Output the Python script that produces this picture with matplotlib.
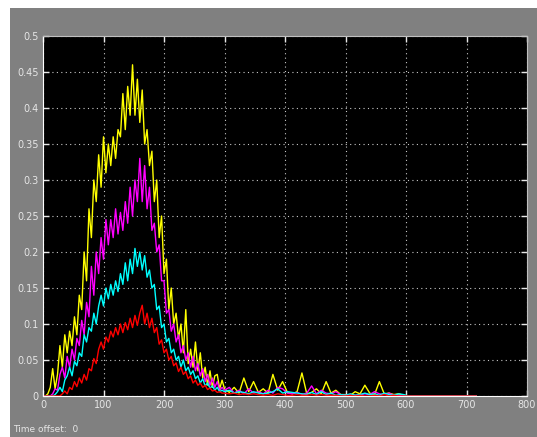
import matplotlib
matplotlib.use('Agg')
import matplotlib.pyplot as plt
import numpy as np
from matplotlib.patches import Rectangle

# time grid: dense over the pulse, coarser over the tail
t = np.concatenate([np.arange(0, 300, 4), np.arange(300, 724, 8)])

yellow = [0, 0, 0.003, 0.012, 0.038, 0.01, 0.03, 0.07, 0.04, 0.085,
          0.06, 0.09, 0.07, 0.11, 0.085, 0.14, 0.12, 0.2, 0.16, 0.26,
          0.22, 0.3, 0.27, 0.335, 0.29, 0.36, 0.31, 0.35, 0.32, 0.36,
          0.33, 0.37, 0.36, 0.42, 0.37, 0.43, 0.39, 0.46, 0.39, 0.44,
          0.38, 0.425, 0.35, 0.37, 0.32, 0.34, 0.27, 0.3, 0.22, 0.25,
          0.17, 0.19, 0.12, 0.15, 0.1, 0.115, 0.08, 0.1, 0.06, 0.12,
          0.045, 0.065, 0.04, 0.075, 0.035, 0.06, 0.025, 0.04, 0.015, 0.035,
          0.012, 0.028, 0.03, 0.01, 0.022,
          # tail
          0.01, 0.005, 0.012, 0.004, 0.025, 0.006, 0.02, 0.005, 0.01, 0.004,
          0.03, 0.008, 0.02, 0.005, 0.003, 0.006, 0.032, 0.003, 0.005, 0.01,
          0.003, 0.02, 0.004, 0.008, 0.002, 0.002, 0.001, 0.006, 0.003, 0.015,
          0.004, 0.002, 0.02, 0.003, 0.004, 0.002, 0.003, 0.001,
          0, 0, 0, 0, 0, 0, 0, 0, 0, 0, 0, 0, 0, 0, 0]

magenta = [0, 0, 0, 0, 0.003, 0.01, 0.008, 0.03, 0.04, 0.025,
           0.055, 0.04, 0.065, 0.05, 0.08, 0.07, 0.105, 0.085, 0.13, 0.11,
           0.18, 0.14, 0.2, 0.17, 0.22, 0.19, 0.245, 0.21, 0.245, 0.22,
           0.26, 0.225, 0.255, 0.23, 0.27, 0.24, 0.29, 0.25, 0.3, 0.27,
           0.33, 0.27, 0.32, 0.26, 0.29, 0.23, 0.24, 0.2, 0.21, 0.16,
           0.16, 0.115, 0.12, 0.09, 0.1, 0.075, 0.085, 0.06, 0.07, 0.05,
           0.06, 0.04, 0.055, 0.035, 0.045, 0.028, 0.038, 0.02, 0.03, 0.015,
           0.025, 0.012, 0.02, 0.008, 0.012,
           # tail
           0.008, 0.012, 0.004, 0.008, 0.003, 0.01, 0.004, 0.006, 0.003, 0.008,
           0.004, 0.012, 0.01, 0.004, 0.003, 0.005, 0.002, 0.004, 0.014, 0.003,
           0.008, 0.004, 0.003, 0.006, 0.002, 0.001, 0.002, 0.001, 0.002, 0.003,
           0.002, 0.006, 0.003, 0.002, 0.004, 0.001, 0.001, 0,
           0, 0, 0, 0, 0, 0, 0, 0, 0, 0, 0, 0, 0, 0, 0]

cyan = [0, 0, 0, 0, 0, 0.002, 0.006, 0.012, 0.006, 0.022,
        0.028, 0.04, 0.028, 0.048, 0.042, 0.06, 0.055, 0.085, 0.075, 0.095,
        0.09, 0.115, 0.1, 0.125, 0.14, 0.125, 0.15, 0.135, 0.155, 0.14,
        0.16, 0.145, 0.17, 0.155, 0.185, 0.16, 0.19, 0.17, 0.205, 0.18,
        0.2, 0.175, 0.195, 0.165, 0.175, 0.15, 0.155, 0.12, 0.125, 0.095,
        0.1, 0.075, 0.08, 0.06, 0.065, 0.05, 0.055, 0.04, 0.05, 0.035,
        0.04, 0.03, 0.035, 0.024, 0.028, 0.018, 0.024, 0.014, 0.018, 0.011,
        0.014, 0.008, 0.012, 0.006, 0.008,
        # tail
        0.006, 0.008, 0.004, 0.006, 0.005, 0.003, 0.006, 0.004, 0.003, 0.004,
        0.006, 0.01, 0.004, 0.006, 0.005, 0.004, 0.003, 0.002, 0.005, 0.002,
        0.006, 0.002, 0.004, 0.001, 0.002, 0.001, 0.003, 0.001, 0.002, 0.004,
        0.002, 0.003, 0.001, 0.004, 0.002, 0.001, 0.003, 0.002,
        0, 0, 0, 0, 0, 0, 0, 0, 0, 0, 0, 0, 0, 0, 0]

red = [0, 0, 0, 0, 0, 0, 0, 0, 0.003, 0.007,
       0.003, 0.012, 0.009, 0.02, 0.013, 0.025, 0.018, 0.03, 0.022, 0.038,
       0.035, 0.052, 0.045, 0.065, 0.075, 0.065, 0.082, 0.075, 0.09, 0.082,
       0.095, 0.085, 0.1, 0.088, 0.102, 0.092, 0.108, 0.095, 0.112, 0.098,
       0.115, 0.126, 0.1, 0.115, 0.095, 0.108, 0.088, 0.095, 0.072, 0.078,
       0.06, 0.065, 0.05, 0.055, 0.042, 0.046, 0.034, 0.04, 0.03, 0.034,
       0.024, 0.028, 0.018, 0.022, 0.015, 0.018, 0.012, 0.015, 0.009, 0.011,
       0.007, 0.008, 0.005, 0.006, 0.004,
       # tail
       0.004, 0.003, 0.004, 0.002, 0.003, 0.002, 0.003, 0.002, 0.001, 0.002,
       0.001, 0.003, 0.002, 0.001, 0.001, 0.002, 0.001, 0.001, 0.002, 0.001,
       0.002, 0.001, 0.001, 0.001, 0, 0, 0.001, 0, 0.001, 0,
       0, 0.001, 0, 0.002, 0, 0.001, 0, 0,
       0, 0, 0, 0, 0, 0, 0, 0, 0, 0, 0, 0, 0, 0, 0]

xticks = np.arange(0, 900, 100)
yticks = np.arange(0, 0.55, 0.05)

W, H = 537, 437
fig = plt.figure(figsize=(W / 100, H / 100), dpi=100, facecolor='white')

# grey scope window background, kept behind the axes
fig.patches.append(Rectangle((10 / W, 0), 527 / W, 429 / H, transform=fig.transFigure,
                             facecolor='#808080', edgecolor='none', zorder=-10))

ax = fig.add_axes([43 / W, 41 / H, 484 / W, 360 / H])
ax.set_zorder(5)
ax.set_facecolor('black')

for vals, col in [(yellow, '#ffff00'), (magenta, '#ff00ff'), (cyan, '#00ffff'), (red, '#ff0000')]:
    ax.plot(t, vals, color=col, linewidth=1.0)

ax.set_xlim(0, 800)
ax.set_ylim(0, 0.5)
ax.set_xticks(xticks)
ax.set_yticks(yticks)
ax.set_xticklabels(['%g' % v for v in xticks])
ax.set_yticklabels(['%g' % round(v, 2) for v in yticks])
ax.tick_params(direction='in', colors='#e6e6e6', labelsize=7, length=4, width=1,
               top=True, right=True, pad=3)
ax.grid(True, color='#c8c8c8', linestyle=(0, (1, 3)), linewidth=0.8)

ax.spines['left'].set_color('white')
ax.spines['bottom'].set_color('white')
ax.spines['top'].set_color('#c0c0c0')
ax.spines['right'].set_color('#c0c0c0')

fig.text(13 / W, 1 - 430 / H, 'Time offset:  0', color='#e6e6e6', fontsize=6.5,
         va='center', ha='left', zorder=10)

fig.savefig('out.png', dpi=100, facecolor=fig.get_facecolor())
